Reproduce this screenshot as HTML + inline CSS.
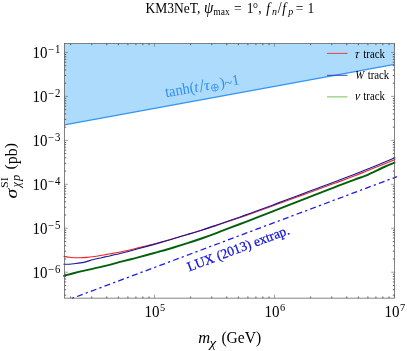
<!DOCTYPE html>
<html><head><meta charset="utf-8">
<style>
html,body{margin:0;padding:0;background:#fff;}
svg{display:block;font-family:"Liberation Serif",serif;}
text{fill:#000;}
</style></head><body>
<svg width="407" height="351" viewBox="0 0 407 351">
<rect width="407" height="351" fill="#fff"/>
<g filter="url(#soft)">
<defs><filter id="soft" x="-5%" y="-5%" width="110%" height="110%"><feGaussianBlur stdDeviation="0.35"/></filter><clipPath id="cp"><rect x="63.3" y="43.5" width="332.2" height="254.64999999999998"/></clipPath><clipPath id="cp2"><rect x="64.5" y="43.5" width="332.7" height="255.25"/></clipPath></defs>
<g clip-path="url(#cp)">
<polygon points="64.5,43.5 394.5,43.5 394.5,64.4 64.5,124.8" fill="#addbfb"/>
<line x1="64.5" y1="124.8" x2="394.5" y2="64.4" stroke="#3394f5" stroke-width="1.3"/>

<path d="M63.30,275.92 C63.70,275.81 62.67,276.09 64.50,275.60 C66.33,275.11 70.62,273.92 74.30,273.00 C77.98,272.08 82.50,271.03 86.60,270.10 C90.70,269.17 94.92,268.32 98.90,267.40 C102.88,266.48 106.60,265.60 110.50,264.60 C114.40,263.60 118.28,262.47 122.30,261.42 C126.32,260.38 130.50,259.39 134.60,258.33 C138.70,257.27 142.92,256.12 146.90,255.04 C150.88,253.95 154.20,253.04 158.50,251.82 C162.80,250.60 167.87,249.18 172.70,247.74 C177.53,246.30 182.58,244.76 187.50,243.18 C192.42,241.60 197.28,239.98 202.20,238.27 C207.12,236.56 212.42,234.63 217.00,232.90 C221.58,231.17 225.12,229.65 229.70,227.89 C234.28,226.13 239.58,224.21 244.50,222.33 C249.42,220.45 254.28,218.53 259.20,216.62 C264.12,214.71 269.42,212.64 274.00,210.84 C278.58,209.04 282.12,207.60 286.70,205.80 C291.28,204.00 296.58,201.97 301.50,200.06 C306.42,198.16 311.28,196.26 316.20,194.37 C321.12,192.48 327.03,190.24 331.00,188.71 C334.97,187.18 336.05,186.70 340.00,185.17 C343.95,183.64 350.28,181.19 354.70,179.54 C359.12,177.89 361.58,177.39 366.50,175.30 C371.42,173.21 379.35,169.20 384.20,167.00 C389.05,164.80 391.80,163.73 395.60,162.10" fill="none" stroke="#04600a" stroke-width="1.95"/>
<path d="M63.30,256.18 C63.70,256.25 63.48,256.21 64.50,256.40 C65.52,256.59 67.77,257.08 69.40,257.30 C71.03,257.52 72.47,257.62 74.30,257.70 C76.13,257.78 78.35,257.85 80.40,257.80 C82.45,257.75 84.55,257.57 86.60,257.40 C88.65,257.23 90.65,257.07 92.70,256.80 C94.75,256.53 96.85,256.15 98.90,255.80 C100.95,255.45 103.07,255.03 105.00,254.70 C106.93,254.37 107.62,254.33 110.50,253.80 C113.38,253.27 118.28,252.38 122.30,251.53 C126.32,250.68 130.50,249.69 134.60,248.71 C138.70,247.73 142.92,246.66 146.90,245.66 C150.88,244.66 154.20,243.84 158.50,242.68 C162.80,241.53 167.87,240.10 172.70,238.73 C177.53,237.35 182.58,235.88 187.50,234.43 C192.42,232.99 197.45,231.53 202.20,230.06 C206.95,228.59 211.42,227.13 216.00,225.62 C220.58,224.11 224.95,222.60 229.70,221.00 C234.45,219.40 239.58,217.69 244.50,215.99 C249.42,214.29 254.45,212.52 259.20,210.82 C263.95,209.12 268.42,207.48 273.00,205.80 C277.58,204.12 281.95,202.48 286.70,200.74 C291.45,199.00 296.58,197.16 301.50,195.36 C306.42,193.56 311.28,191.78 316.20,189.97 C321.12,188.16 327.03,185.94 331.00,184.50 C334.97,183.06 336.05,182.81 340.00,181.36 C343.95,179.91 350.28,177.49 354.70,175.78 C359.12,174.07 361.58,173.06 366.50,171.10 C371.42,169.14 379.35,165.98 384.20,164.00 C389.05,162.02 391.80,160.80 395.60,159.20" fill="none" stroke="#ee2424" stroke-width="1.1"/>
<path d="M63.30,264.32 C63.70,264.32 63.48,264.32 64.50,264.30 C65.52,264.28 67.77,264.30 69.40,264.20 C71.03,264.10 72.47,263.92 74.30,263.70 C76.13,263.48 78.35,263.25 80.40,262.90 C82.45,262.55 84.55,262.13 86.60,261.60 C88.65,261.07 90.65,260.25 92.70,259.70 C94.75,259.15 96.85,258.77 98.90,258.30 C100.95,257.83 103.07,257.33 105.00,256.90 C106.93,256.47 107.62,256.36 110.50,255.70 C113.38,255.04 118.28,253.92 122.30,252.93 C126.32,251.94 130.50,250.86 134.60,249.77 C138.70,248.68 142.92,247.51 146.90,246.40 C150.88,245.29 154.20,244.34 158.50,243.10 C162.80,241.86 167.87,240.38 172.70,238.94 C177.53,237.50 182.58,235.98 187.50,234.48 C192.42,232.97 197.45,231.44 202.20,229.91 C206.95,228.38 211.42,226.85 216.00,225.29 C220.58,223.72 224.95,222.17 229.70,220.52 C234.45,218.87 239.58,217.13 244.50,215.39 C249.42,213.65 254.45,211.84 259.20,210.09 C263.95,208.34 268.42,206.65 273.00,204.92 C277.58,203.19 281.95,201.49 286.70,199.70 C291.45,197.91 296.58,196.03 301.50,194.20 C306.42,192.37 311.28,190.54 316.20,188.70 C321.12,186.86 327.03,184.62 331.00,183.14 C334.97,181.66 336.05,181.32 340.00,179.82 C343.95,178.32 350.28,175.86 354.70,174.16 C359.12,172.46 361.58,171.58 366.50,169.60 C371.42,167.62 379.35,164.32 384.20,162.30 C389.05,160.28 391.80,159.10 395.60,157.50" fill="none" stroke="#18189a" stroke-width="1.1"/>
</g>
<g clip-path="url(#cp2)"><line x1="63.33" y1="301.62" x2="397.0" y2="176.63" stroke="#1c1ce6" stroke-width="1.28" stroke-dasharray="6 3.16 2.3 3.19"/></g>
<g stroke="#3a3a3a" stroke-width="0.8" fill="none">
<line x1="70.62" y1="298.15" x2="70.62" y2="296.45"/>
<line x1="70.62" y1="43.50" x2="70.62" y2="45.20"/>
<line x1="91.75" y1="298.15" x2="91.75" y2="296.45"/>
<line x1="91.75" y1="43.50" x2="91.75" y2="45.20"/>
<line x1="106.75" y1="298.15" x2="106.75" y2="296.45"/>
<line x1="106.75" y1="43.50" x2="106.75" y2="45.20"/>
<line x1="118.38" y1="298.15" x2="118.38" y2="296.45"/>
<line x1="118.38" y1="43.50" x2="118.38" y2="45.20"/>
<line x1="127.88" y1="298.15" x2="127.88" y2="296.45"/>
<line x1="127.88" y1="43.50" x2="127.88" y2="45.20"/>
<line x1="135.91" y1="298.15" x2="135.91" y2="296.45"/>
<line x1="135.91" y1="43.50" x2="135.91" y2="45.20"/>
<line x1="142.87" y1="298.15" x2="142.87" y2="296.45"/>
<line x1="142.87" y1="43.50" x2="142.87" y2="45.20"/>
<line x1="149.01" y1="298.15" x2="149.01" y2="296.45"/>
<line x1="149.01" y1="43.50" x2="149.01" y2="45.20"/>
<line x1="154.50" y1="298.15" x2="154.50" y2="294.75" stroke="#707070" stroke-width="0.65"/>
<line x1="154.50" y1="43.50" x2="154.50" y2="46.90" stroke="#707070" stroke-width="0.65"/>
<line x1="190.62" y1="298.15" x2="190.62" y2="296.45"/>
<line x1="190.62" y1="43.50" x2="190.62" y2="45.20"/>
<line x1="211.75" y1="298.15" x2="211.75" y2="296.45"/>
<line x1="211.75" y1="43.50" x2="211.75" y2="45.20"/>
<line x1="226.75" y1="298.15" x2="226.75" y2="296.45"/>
<line x1="226.75" y1="43.50" x2="226.75" y2="45.20"/>
<line x1="238.38" y1="298.15" x2="238.38" y2="296.45"/>
<line x1="238.38" y1="43.50" x2="238.38" y2="45.20"/>
<line x1="247.88" y1="298.15" x2="247.88" y2="296.45"/>
<line x1="247.88" y1="43.50" x2="247.88" y2="45.20"/>
<line x1="255.91" y1="298.15" x2="255.91" y2="296.45"/>
<line x1="255.91" y1="43.50" x2="255.91" y2="45.20"/>
<line x1="262.87" y1="298.15" x2="262.87" y2="296.45"/>
<line x1="262.87" y1="43.50" x2="262.87" y2="45.20"/>
<line x1="269.01" y1="298.15" x2="269.01" y2="296.45"/>
<line x1="269.01" y1="43.50" x2="269.01" y2="45.20"/>
<line x1="274.50" y1="298.15" x2="274.50" y2="294.75" stroke="#707070" stroke-width="0.65"/>
<line x1="274.50" y1="43.50" x2="274.50" y2="46.90" stroke="#707070" stroke-width="0.65"/>
<line x1="310.62" y1="298.15" x2="310.62" y2="296.45"/>
<line x1="310.62" y1="43.50" x2="310.62" y2="45.20"/>
<line x1="331.75" y1="298.15" x2="331.75" y2="296.45"/>
<line x1="331.75" y1="43.50" x2="331.75" y2="45.20"/>
<line x1="346.75" y1="298.15" x2="346.75" y2="296.45"/>
<line x1="346.75" y1="43.50" x2="346.75" y2="45.20"/>
<line x1="358.38" y1="298.15" x2="358.38" y2="296.45"/>
<line x1="358.38" y1="43.50" x2="358.38" y2="45.20"/>
<line x1="367.88" y1="298.15" x2="367.88" y2="296.45"/>
<line x1="367.88" y1="43.50" x2="367.88" y2="45.20"/>
<line x1="375.91" y1="298.15" x2="375.91" y2="296.45"/>
<line x1="375.91" y1="43.50" x2="375.91" y2="45.20"/>
<line x1="382.87" y1="298.15" x2="382.87" y2="296.45"/>
<line x1="382.87" y1="43.50" x2="382.87" y2="45.20"/>
<line x1="389.01" y1="298.15" x2="389.01" y2="296.45"/>
<line x1="389.01" y1="43.50" x2="389.01" y2="45.20"/>
<line x1="394.50" y1="298.15" x2="394.50" y2="294.75" stroke="#707070" stroke-width="0.65"/>
<line x1="394.50" y1="43.50" x2="394.50" y2="46.90" stroke="#707070" stroke-width="0.65"/>
<line x1="64.50" y1="295.18" x2="66.20" y2="295.18"/>
<line x1="394.50" y1="295.18" x2="392.80" y2="295.18"/>
<line x1="64.50" y1="289.69" x2="66.20" y2="289.69"/>
<line x1="394.50" y1="289.69" x2="392.80" y2="289.69"/>
<line x1="64.50" y1="285.43" x2="66.20" y2="285.43"/>
<line x1="394.50" y1="285.43" x2="392.80" y2="285.43"/>
<line x1="64.50" y1="281.95" x2="66.20" y2="281.95"/>
<line x1="394.50" y1="281.95" x2="392.80" y2="281.95"/>
<line x1="64.50" y1="279.01" x2="66.20" y2="279.01"/>
<line x1="394.50" y1="279.01" x2="392.80" y2="279.01"/>
<line x1="64.50" y1="276.46" x2="66.20" y2="276.46"/>
<line x1="394.50" y1="276.46" x2="392.80" y2="276.46"/>
<line x1="64.50" y1="274.21" x2="66.20" y2="274.21"/>
<line x1="394.50" y1="274.21" x2="392.80" y2="274.21"/>
<line x1="64.50" y1="272.20" x2="67.90" y2="272.20" stroke="#707070" stroke-width="0.65"/>
<line x1="394.50" y1="272.20" x2="391.10" y2="272.20" stroke="#707070" stroke-width="0.65"/>
<line x1="64.50" y1="258.97" x2="66.20" y2="258.97"/>
<line x1="394.50" y1="258.97" x2="392.80" y2="258.97"/>
<line x1="64.50" y1="251.23" x2="66.20" y2="251.23"/>
<line x1="394.50" y1="251.23" x2="392.80" y2="251.23"/>
<line x1="64.50" y1="245.74" x2="66.20" y2="245.74"/>
<line x1="394.50" y1="245.74" x2="392.80" y2="245.74"/>
<line x1="64.50" y1="241.48" x2="66.20" y2="241.48"/>
<line x1="394.50" y1="241.48" x2="392.80" y2="241.48"/>
<line x1="64.50" y1="238.00" x2="66.20" y2="238.00"/>
<line x1="394.50" y1="238.00" x2="392.80" y2="238.00"/>
<line x1="64.50" y1="235.06" x2="66.20" y2="235.06"/>
<line x1="394.50" y1="235.06" x2="392.80" y2="235.06"/>
<line x1="64.50" y1="232.51" x2="66.20" y2="232.51"/>
<line x1="394.50" y1="232.51" x2="392.80" y2="232.51"/>
<line x1="64.50" y1="230.26" x2="66.20" y2="230.26"/>
<line x1="394.50" y1="230.26" x2="392.80" y2="230.26"/>
<line x1="64.50" y1="228.25" x2="67.90" y2="228.25" stroke="#707070" stroke-width="0.65"/>
<line x1="394.50" y1="228.25" x2="391.10" y2="228.25" stroke="#707070" stroke-width="0.65"/>
<line x1="64.50" y1="215.02" x2="66.20" y2="215.02"/>
<line x1="394.50" y1="215.02" x2="392.80" y2="215.02"/>
<line x1="64.50" y1="207.28" x2="66.20" y2="207.28"/>
<line x1="394.50" y1="207.28" x2="392.80" y2="207.28"/>
<line x1="64.50" y1="201.79" x2="66.20" y2="201.79"/>
<line x1="394.50" y1="201.79" x2="392.80" y2="201.79"/>
<line x1="64.50" y1="197.53" x2="66.20" y2="197.53"/>
<line x1="394.50" y1="197.53" x2="392.80" y2="197.53"/>
<line x1="64.50" y1="194.05" x2="66.20" y2="194.05"/>
<line x1="394.50" y1="194.05" x2="392.80" y2="194.05"/>
<line x1="64.50" y1="191.11" x2="66.20" y2="191.11"/>
<line x1="394.50" y1="191.11" x2="392.80" y2="191.11"/>
<line x1="64.50" y1="188.56" x2="66.20" y2="188.56"/>
<line x1="394.50" y1="188.56" x2="392.80" y2="188.56"/>
<line x1="64.50" y1="186.31" x2="66.20" y2="186.31"/>
<line x1="394.50" y1="186.31" x2="392.80" y2="186.31"/>
<line x1="64.50" y1="184.30" x2="67.90" y2="184.30" stroke="#707070" stroke-width="0.65"/>
<line x1="394.50" y1="184.30" x2="391.10" y2="184.30" stroke="#707070" stroke-width="0.65"/>
<line x1="64.50" y1="171.07" x2="66.20" y2="171.07"/>
<line x1="394.50" y1="171.07" x2="392.80" y2="171.07"/>
<line x1="64.50" y1="163.33" x2="66.20" y2="163.33"/>
<line x1="394.50" y1="163.33" x2="392.80" y2="163.33"/>
<line x1="64.50" y1="157.84" x2="66.20" y2="157.84"/>
<line x1="394.50" y1="157.84" x2="392.80" y2="157.84"/>
<line x1="64.50" y1="153.58" x2="66.20" y2="153.58"/>
<line x1="394.50" y1="153.58" x2="392.80" y2="153.58"/>
<line x1="64.50" y1="150.10" x2="66.20" y2="150.10"/>
<line x1="394.50" y1="150.10" x2="392.80" y2="150.10"/>
<line x1="64.50" y1="147.16" x2="66.20" y2="147.16"/>
<line x1="394.50" y1="147.16" x2="392.80" y2="147.16"/>
<line x1="64.50" y1="144.61" x2="66.20" y2="144.61"/>
<line x1="394.50" y1="144.61" x2="392.80" y2="144.61"/>
<line x1="64.50" y1="142.36" x2="66.20" y2="142.36"/>
<line x1="394.50" y1="142.36" x2="392.80" y2="142.36"/>
<line x1="64.50" y1="140.35" x2="67.90" y2="140.35" stroke="#707070" stroke-width="0.65"/>
<line x1="394.50" y1="140.35" x2="391.10" y2="140.35" stroke="#707070" stroke-width="0.65"/>
<line x1="64.50" y1="127.12" x2="66.20" y2="127.12"/>
<line x1="394.50" y1="127.12" x2="392.80" y2="127.12"/>
<line x1="64.50" y1="119.38" x2="66.20" y2="119.38"/>
<line x1="394.50" y1="119.38" x2="392.80" y2="119.38"/>
<line x1="64.50" y1="113.89" x2="66.20" y2="113.89"/>
<line x1="394.50" y1="113.89" x2="392.80" y2="113.89"/>
<line x1="64.50" y1="109.63" x2="66.20" y2="109.63"/>
<line x1="394.50" y1="109.63" x2="392.80" y2="109.63"/>
<line x1="64.50" y1="106.15" x2="66.20" y2="106.15"/>
<line x1="394.50" y1="106.15" x2="392.80" y2="106.15"/>
<line x1="64.50" y1="103.21" x2="66.20" y2="103.21"/>
<line x1="394.50" y1="103.21" x2="392.80" y2="103.21"/>
<line x1="64.50" y1="100.66" x2="66.20" y2="100.66"/>
<line x1="394.50" y1="100.66" x2="392.80" y2="100.66"/>
<line x1="64.50" y1="98.41" x2="66.20" y2="98.41"/>
<line x1="394.50" y1="98.41" x2="392.80" y2="98.41"/>
<line x1="64.50" y1="96.40" x2="67.90" y2="96.40" stroke="#707070" stroke-width="0.65"/>
<line x1="394.50" y1="96.40" x2="391.10" y2="96.40" stroke="#707070" stroke-width="0.65"/>
<line x1="64.50" y1="83.17" x2="66.20" y2="83.17"/>
<line x1="394.50" y1="83.17" x2="392.80" y2="83.17"/>
<line x1="64.50" y1="75.43" x2="66.20" y2="75.43"/>
<line x1="394.50" y1="75.43" x2="392.80" y2="75.43"/>
<line x1="64.50" y1="69.94" x2="66.20" y2="69.94"/>
<line x1="394.50" y1="69.94" x2="392.80" y2="69.94"/>
<line x1="64.50" y1="65.68" x2="66.20" y2="65.68"/>
<line x1="394.50" y1="65.68" x2="392.80" y2="65.68"/>
<line x1="64.50" y1="62.20" x2="66.20" y2="62.20"/>
<line x1="394.50" y1="62.20" x2="392.80" y2="62.20"/>
<line x1="64.50" y1="59.26" x2="66.20" y2="59.26"/>
<line x1="394.50" y1="59.26" x2="392.80" y2="59.26"/>
<line x1="64.50" y1="56.71" x2="66.20" y2="56.71"/>
<line x1="394.50" y1="56.71" x2="392.80" y2="56.71"/>
<line x1="64.50" y1="54.46" x2="66.20" y2="54.46"/>
<line x1="394.50" y1="54.46" x2="392.80" y2="54.46"/>
<line x1="64.50" y1="52.45" x2="67.90" y2="52.45" stroke="#707070" stroke-width="0.65"/>
<line x1="394.50" y1="52.45" x2="391.10" y2="52.45" stroke="#707070" stroke-width="0.65"/>
</g>
<rect x="64.5" y="43.5" width="330.0" height="254.64999999999998" fill="none" stroke="#555" stroke-width="0.72"/>
<!-- legend -->
<g stroke-width="0.95">
<line x1="327" y1="53.4" x2="347.5" y2="53.4" stroke="#e63a3c"/>
<line x1="327" y1="75.3" x2="347.5" y2="75.3" stroke="#3c3cb8"/>
<line x1="327" y1="96.9" x2="347.5" y2="96.9" stroke="#6cc04a"/>
</g>
<g font-size="10.8">
<text transform="translate(354.6,57.6) scale(1,1.12) skewX(-8)" font-style="italic" font-size="11.6">τ</text>
<text transform="translate(363.3,57.6) scale(1,1.13)">track</text>
<text transform="translate(355.2,78.9) scale(1,1.13)" font-style="italic">W</text>
<text transform="translate(367.7,78.9) scale(1,1.13)">track</text>
<text transform="translate(354.6,100.4) scale(1,1.12) skewX(-8)" font-style="italic" font-size="11.6">ν</text>
<text transform="translate(363.3,100.4) scale(1,1.13)">track</text>
</g>
<!-- title -->
<g font-size="13.5" transform="translate(0,13.0) scale(1,1.13) translate(0,-13.0)">
<text x="145.6" y="13.0">KM3NeT,</text>
<text x="204.1" y="12.8" font-size="15" font-style="italic">ψ</text>
<text x="213.3" y="15.0" font-size="9.5">max</text>
<text x="233.9" y="13.0">=</text>
<text x="246.8" y="13.0">1</text>
<text x="252.7" y="13.0">°</text>
<text x="258.2" y="13.0">,</text>
<text x="266.2" y="12.6" font-size="13.6" font-style="italic">f</text>
<text x="272.0" y="15.0" font-size="10" font-style="italic">n</text>
<text x="277.7" y="13.0" font-size="14">/</text>
<text x="282.3" y="12.6" font-size="13.6" font-style="italic">f</text>
<text x="288.2" y="15.0" font-size="10" font-style="italic">p</text>
<text x="295.8" y="13.0">=</text>
<text x="307.6" y="13.0">1</text>
</g>
<!-- tick labels -->
<text transform="translate(32.5,278.10) scale(1,1.07)" font-size="15">10<tspan dx="0.6" dy="-4.6" font-size="10.8">−<tspan dx="0.7">6</tspan></tspan></text>
<text transform="translate(32.5,234.15) scale(1,1.07)" font-size="15">10<tspan dx="0.6" dy="-4.6" font-size="10.8">−<tspan dx="0.7">5</tspan></tspan></text>
<text transform="translate(32.5,190.20) scale(1,1.07)" font-size="15">10<tspan dx="0.6" dy="-4.6" font-size="10.8">−<tspan dx="0.7">4</tspan></tspan></text>
<text transform="translate(32.5,146.25) scale(1,1.07)" font-size="15">10<tspan dx="0.6" dy="-4.6" font-size="10.8">−<tspan dx="0.7">3</tspan></tspan></text>
<text transform="translate(32.5,102.30) scale(1,1.07)" font-size="15">10<tspan dx="0.6" dy="-4.6" font-size="10.8">−<tspan dx="0.7">2</tspan></tspan></text>
<text transform="translate(32.5,58.35) scale(1,1.07)" font-size="15">10<tspan dx="0.6" dy="-4.6" font-size="10.8">−<tspan dx="0.7">1</tspan></tspan></text>

<text transform="translate(144.40,316.7) scale(1,1.07)" font-size="15">10<tspan dx="0.5" dy="-5.7" font-size="10.4">5</tspan></text>
<text transform="translate(264.40,316.7) scale(1,1.07)" font-size="15">10<tspan dx="0.5" dy="-5.7" font-size="10.4">6</tspan></text>
<text transform="translate(384.40,316.7) scale(1,1.07)" font-size="15">10<tspan dx="0.5" dy="-5.7" font-size="10.4">7</tspan></text>

<!-- x label -->
<text transform="translate(198.2,343.2) scale(1.1,1.08)" font-size="15" font-style="italic">m</text>
<text transform="translate(209.4,346.7) scale(1.32,1.05)" font-size="11.4" font-style="italic">χ</text>
<text transform="translate(221.4,343.2) scale(1.04,1.14)" font-size="15">(GeV)</text>
<!-- y label -->
<g transform="translate(16.5,198.2) rotate(-90)">
<text transform="translate(-0.4,0) scale(1.32,1.05)" x="0" y="0" font-size="15" font-style="italic">σ</text>
<text transform="translate(10.2,-8.2) scale(1.12,1)" font-size="10.8">SI</text>
<text x="11.0" y="3.6" font-size="11.5" font-style="italic">χ<tspan dx="1.2" font-size="12.5">p</tspan></text>
<text transform="translate(28.7,-1.3) scale(1.06,0.92)" font-size="15">(</text>
<text transform="translate(34.0,0) scale(1.06,1.06)" font-size="15">pb</text>
<text transform="translate(49.9,-1.3) scale(1.06,0.92)" font-size="15">)</text>
</g>
<!-- tanh label -->
<g transform="translate(164.9,97.5) rotate(-10.0)" font-size="15" style="fill:#2f8ef2">
<text transform="translate(1.0,0) scale(0.967,1.04)" style="fill:#2f8ef2">tanh(</text>
<text x="30.6" y="0" font-style="italic" style="fill:#2f8ef2">t</text>
<text x="35.7" y="1.0" font-size="18.5" style="fill:#2f8ef2">/</text>
<text transform="translate(40.4,0) scale(1.08,1)" font-style="italic" style="fill:#2f8ef2">τ</text>
<g stroke="#3a96f2" stroke-width="0.8" fill="none"><circle cx="50.9" cy="-1.0" r="3.45"/><line x1="47.45" y1="-1.0" x2="54.35" y2="-1.0"/><line x1="50.9" y1="-4.45" x2="50.9" y2="2.45"/></g>
<text x="56.4" y="0" style="fill:#2f8ef2">)</text>
<text transform="translate(61.1,1.3) scale(0.97,1)" style="fill:#2f8ef2">~</text>
<text x="69.0" y="0" style="fill:#2f8ef2">1</text>
</g>
<!-- LUX label -->
<g transform="translate(189.2,271.5) rotate(-20.5)">
<text x="0" y="0" font-size="13.55" style="fill:#1414d8" stroke="#1414d8" stroke-width="0.25">LUX (2013) extrap.</text>
</g>
</g>
</svg>
</body></html>
